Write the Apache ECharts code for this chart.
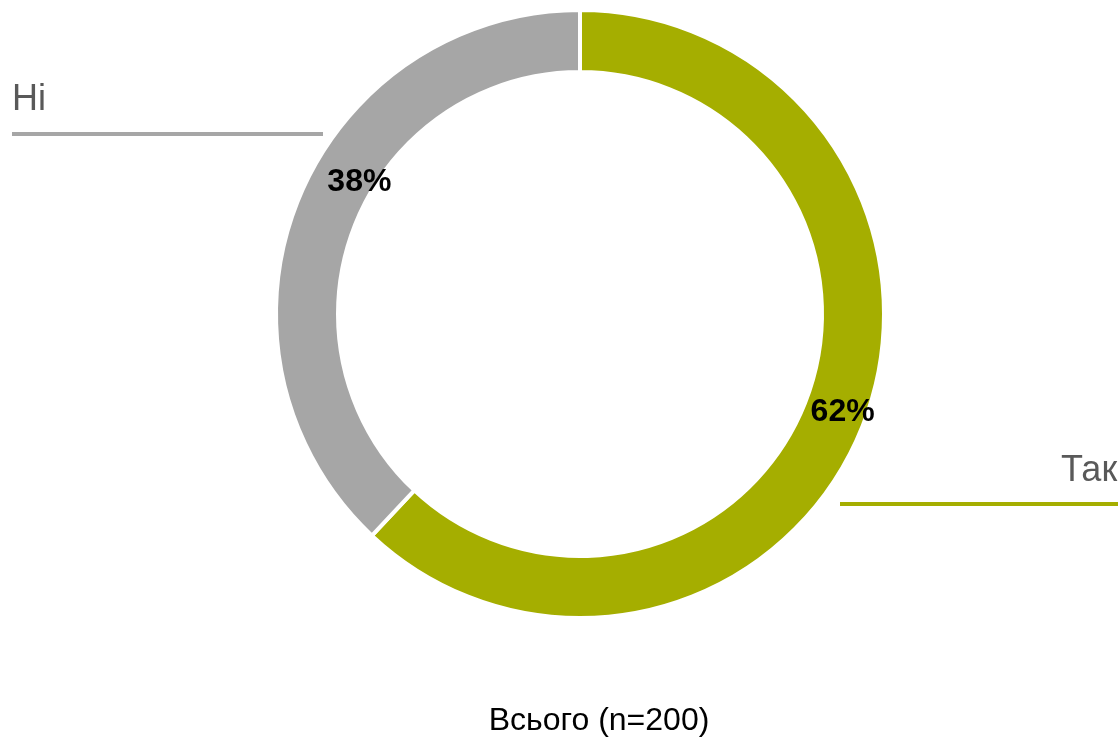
<!DOCTYPE html>
<html>
<head>
<meta charset="utf-8">
<script src="https://cdn.jsdelivr.net/npm/echarts@6/dist/echarts.min.js"></script>
<style>
html,body{margin:0;padding:0;background:#fff;}
#chart{width:1118px;height:737px;}
</style>
</head>
<body>
<div id="chart"></div>
<script>
const categories = ['Так', 'Ні'];
const values = [62, 38];
const colors = ['#A5AE00', '#A6A6A6'];
const totalLabel = 'Всього (n=200)';

const FONT = "'Liberation Sans', Arial, sans-serif";
const chart = echarts.init(document.getElementById('chart'));

const labelOffsets = [[6, -3], [36, -30]];

chart.setOption({
  animation: false,
  backgroundColor: '#ffffff',
  series: [{
    type: 'pie',
    center: [580, 314],
    radius: [242, 304],
    startAngle: 90,
    clockwise: true,
    avoidLabelOverlap: false,
    silent: true,
    itemStyle: { borderColor: '#ffffff', borderWidth: 4 },
    label: {
      show: true,
      position: 'inside',
      formatter: '{c}%',
      color: '#000000',
      fontFamily: FONT,
      fontWeight: 'bold',
      fontSize: 32
    },
    labelLine: { show: false },
    data: categories.map((c, i) => ({
      name: c,
      value: values[i],
      itemStyle: { color: colors[i] },
      label: { offset: labelOffsets[i] }
    }))
  }],
  graphic: [
    { type: 'text', left: 12, top: 82, style: { text: categories[1], fill: '#595959', font: '36px ' + FONT } },
    { type: 'line', shape: { x1: 12, y1: 134, x2: 323, y2: 134 }, style: { stroke: colors[1], lineWidth: 4 } },
    { type: 'text', left: 1061, top: 453, style: { text: categories[0], fill: '#595959', font: '36px ' + FONT } },
    { type: 'line', shape: { x1: 840, y1: 504, x2: 1118, y2: 504 }, style: { stroke: colors[0], lineWidth: 4 } },
    { type: 'text', x: 599, y: 721, style: { text: totalLabel, fill: '#000000', font: '32px ' + FONT, textAlign: 'center', textVerticalAlign: 'middle' } }
  ]
});
</script>
</body>
</html>
